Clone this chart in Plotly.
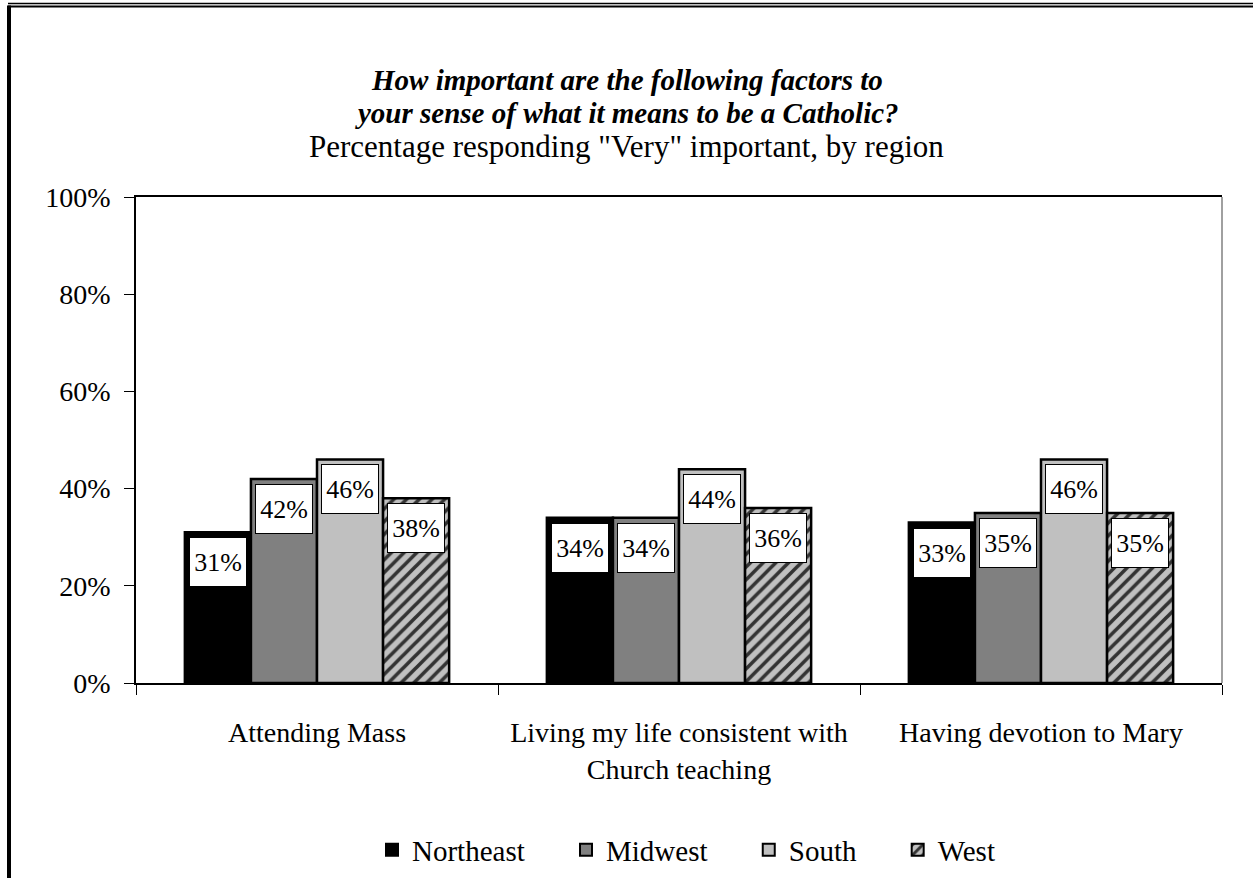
import plotly.graph_objects as go

categories = ["Attending Mass", "Living my life consistent with<br>Church teaching", "Having devotion to Mary"]
regions = ["Northeast", "Midwest", "South", "West"]
northeast = [31, 34, 33]
midwest = [42, 34, 35]
south = [46, 44, 46]
west = [38, 36, 35]
y_ticks = [0, 20, 40, 60, 80, 100]
y_tick_labels = ["0%", "20%", "40%", "60%", "80%", "100%"]
series = [northeast, midwest, south, west]

W, H = 1253, 878
L, R, T, B = 136, 1222, 197, 683
FONT = "Liberation Serif, Times New Roman, serif"
PAD = "\u00a0" * 5

fills = ["#000000", "#808080", "#c0c0c0", "#c0c0c0"]
patterns = [None, None, None, dict(shape="/", bgcolor="#c0c0c0", fgcolor="#333333", size=9, solidity=0.4, fillmode="replace")]

fig = go.Figure()
for name, vals, col, pat in zip(regions, series, fills, patterns):
    marker = dict(color=col, line=dict(color="#000000", width=2.5))
    if pat:
        marker["pattern"] = pat
    fig.add_trace(go.Bar(name=name + PAD, x=categories, y=vals, marker=marker))

def px_x(p):
    return (p - L) / (R - L)

def px_y(p):
    return (B - p) / (B - T)

bargap = 0.27
bw = (1 - bargap) / len(regions)
annotations = []
for i, vals in enumerate(series):
    for c, v in enumerate(vals):
        annotations.append(dict(
            x=c + (i - (len(regions) - 1) / 2) * bw, y=v, xref="x", yref="y",
            text=f"{v}%", showarrow=False, yanchor="top", yshift=-5,
            bgcolor="#ffffff", bordercolor="#000000", borderwidth=1, borderpad=0,
            width=56, height=48, font=dict(family=FONT, size=26, color="#000000")))

annotations += [
    dict(x=px_x(626.5), y=px_y(80), xref="paper", yref="paper", showarrow=False, yanchor="middle",
         text="<b><i>How important are the following factors to</i></b>",
         font=dict(family=FONT, size=29, color="#000000")),
    dict(x=px_x(626.5), y=px_y(113), xref="paper", yref="paper", showarrow=False, yanchor="middle",
         text="<b><i>your sense of what it means to be a Catholic?</i></b>",
         font=dict(family=FONT, size=29, color="#000000")),
    dict(x=px_x(626.5), y=px_y(147), xref="paper", yref="paper", showarrow=False, yanchor="middle",
         text="Percentage responding \"Very\" important, by region",
         font=dict(family=FONT, size=31, color="#000000")),
]

shapes = [
    dict(type="line", xref="paper", yref="paper", x0=1, x1=1, y0=0, y1=1,
         line=dict(color="#808080", width=1.5)),
    dict(type="line", xref="paper", yref="paper", x0=px_x(8), x1=px_x(1260), y0=px_y(3.5), y1=px_y(3.5),
         line=dict(color="#000000", width=1.5)),
    dict(type="line", xref="paper", yref="paper", x0=px_x(8), x1=px_x(1260), y0=px_y(6.5), y1=px_y(6.5),
         line=dict(color="#000000", width=2)),
    dict(type="line", xref="paper", yref="paper", x0=px_x(9), x1=px_x(9), y0=px_y(5.5), y1=px_y(890),
         line=dict(color="#000000", width=4)),
]

fig.update_layout(
    width=W, height=H, autosize=False,
    margin=dict(l=L, r=W - R, t=T, b=H - B, pad=0, autoexpand=False),
    paper_bgcolor="#ffffff", plot_bgcolor="#ffffff",
    barmode="group", bargap=bargap, bargroupgap=0,
    font=dict(family=FONT, size=28, color="#000000"),
    showlegend=True,
    legend=dict(orientation="h", x=px_x(372), xanchor="left", y=px_y(850), yanchor="middle",
                font=dict(family=FONT, size=29, color="#000000"), itemsizing="constant",
                traceorder="normal", bgcolor="rgba(0,0,0,0)"),
    xaxis=dict(showline=True, linecolor="#000000", linewidth=1.5, mirror=True,
               ticks="outside", tickson="boundaries", ticklen=10, tickcolor="#000000", tickwidth=1,
               showgrid=False, tickfont=dict(family=FONT, size=28), ticklabelstandoff=24),
    yaxis=dict(range=[0, 100], tickvals=y_ticks, ticktext=y_tick_labels,
               showline=True, linecolor="#000000", linewidth=1.5,
               ticks="outside", ticklen=10, tickcolor="#000000", tickwidth=1,
               showgrid=False, zeroline=False, tickfont=dict(family=FONT, size=28),
               ticklabelstandoff=8),
    annotations=annotations, shapes=shapes,
)

fig.write_html("out.html", config={"displayModeBar": False},
               post_script="document.body.style.margin='0';document.body.style.overflow='hidden';")
